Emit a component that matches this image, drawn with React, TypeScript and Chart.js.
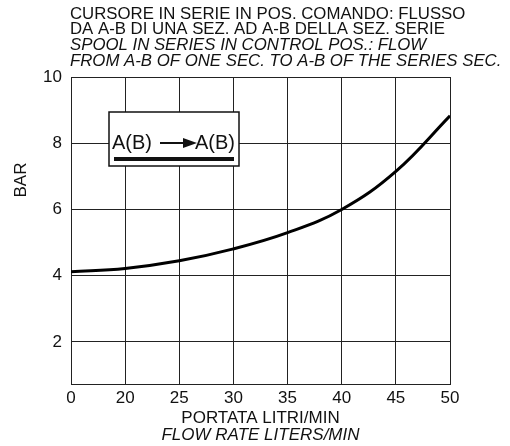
import React, { useEffect, useRef } from "react";
import { Chart, registerables } from "chart.js";

Chart.register(...registerables);

const flowValues = [15, 20, 25, 30, 35, 40, 45, 50];
const pressureBar = [4.12, 4.22, 4.45, 4.81, 5.3, 6.0, 7.15, 8.83];
const yTickValues = [2, 4, 6, 8, 10];
const titleLines = [
  "CURSORE IN SERIE IN POS. COMANDO: FLUSSO",
  "DA A-B DI UNA SEZ. AD A-B DELLA SEZ. SERIE",
];
const subtitleLines = [
  "SPOOL IN SERIES IN CONTROL POS.: FLOW",
  "FROM A-B OF ONE SEC. TO A-B OF THE SERIES SEC.",
];
const xTitle = "PORTATA LITRI/MIN";
const xTitleItalic = "FLOW RATE LITERS/MIN";
const yTitle = "BAR";
const legendText = "A(B)";

const FONT = "'Liberation Sans', Arial, Helvetica, sans-serif";

const extrasPlugin = {
  id: "extras",
  afterDraw(chart: any) {
    const ctx = chart.ctx;
    const area = chart.chartArea;
    ctx.save();
    ctx.fillStyle = "#111";
    // header (normal + italic lines)
    ctx.textAlign = "left";
    ctx.textBaseline = "middle";
    ctx.font = `16.8px ${FONT}`;
    titleLines.forEach((t, i) => ctx.fillText(t, area.left - 1, 14 + i * 15.7));
    ctx.font = `italic 16.8px ${FONT}`;
    subtitleLines.forEach((t, i) => ctx.fillText(t, area.left - 1, 14 + (i + 2) * 15.7));
    // italic second line of x title
    ctx.font = `italic 17px ${FONT}`;
    ctx.textAlign = "center";
    ctx.fillText(xTitleItalic, (area.left + area.right) / 2, 435);
    // y title
    ctx.save();
    ctx.translate(21, 180);
    ctx.rotate(-Math.PI / 2);
    ctx.font = `17px ${FONT}`;
    ctx.fillText(yTitle, 0, 0);
    ctx.restore();
    // legend box
    const bx = area.left + 38;
    const by = 112;
    const bw = 130;
    const bh = 54;
    ctx.fillStyle = "#fff";
    ctx.fillRect(bx, by, bw, bh);
    ctx.strokeStyle = "#111";
    ctx.lineWidth = 1.5;
    ctx.strokeRect(bx, by, bw, bh);
    ctx.fillStyle = "#111";
    ctx.font = `20px ${FONT}`;
    ctx.textAlign = "left";
    ctx.textBaseline = "middle";
    ctx.fillText(legendText, bx + 3, by + 31);
    ctx.fillText(legendText, bx + 86, by + 31);
    // arrow
    ctx.lineWidth = 2;
    ctx.beginPath();
    ctx.moveTo(bx + 51, by + 31);
    ctx.lineTo(bx + 76, by + 31);
    ctx.stroke();
    ctx.beginPath();
    ctx.moveTo(bx + 88, by + 31);
    ctx.lineTo(bx + 74, by + 26);
    ctx.lineTo(bx + 74, by + 36);
    ctx.closePath();
    ctx.fill();
    // thick underline
    ctx.lineWidth = 4;
    ctx.beginPath();
    ctx.moveTo(bx + 5, by + 47);
    ctx.lineTo(bx + 125, by + 47);
    ctx.stroke();
    ctx.restore();
  },
};

export default function App() {
  const canvasRef = useRef<HTMLCanvasElement | null>(null);

  useEffect(() => {
    if (!canvasRef.current) return;
    const chart = new Chart(canvasRef.current, {
      type: "line",
      data: {
        datasets: [
          {
            data: flowValues.map((x, i) => ({ x, y: pressureBar[i] })),
            borderColor: "#000",
            borderWidth: 3,
            pointRadius: 0,
            tension: 0.4,
            fill: false,
          },
        ],
      },
      options: {
        responsive: false,
        animation: false,
        layout: { padding: { left: 0, right: 60, top: 77, bottom: 0 } },
        plugins: {
          legend: { display: false },
          tooltip: { enabled: false },
          title: { display: false },
        },
        scales: {
          x: {
            type: "linear",
            min: 15,
            max: 50,
            ticks: {
              stepSize: 5,
              color: "#111",
              font: { family: FONT, size: 17 },
              padding: 4,
              maxRotation: 0,
              callback: (v: any) => (v === 15 ? "0" : String(v)),
            },
            grid: { color: "#222", lineWidth: 1, drawTicks: false },
            border: { color: "#222", width: 1 },
            title: {
              display: true,
              text: xTitle,
              color: "#111",
              font: { family: FONT, size: 17, lineHeight: 1 },
              padding: { top: 0, bottom: 19.5 },
            },
            afterFit: (scale: any) => {
              scale.height = 62;
            },
          },
          y: {
            type: "linear",
            min: 0.73,
            max: 10,
            afterBuildTicks: (scale: any) => {
              scale.ticks = yTickValues.map((v) => ({ value: v }));
            },
            ticks: {
              color: "#111",
              font: { family: FONT, size: 17 },
              padding: 9,
            },
            grid: { color: "#222", lineWidth: 1, drawTicks: false },
            border: { color: "#222", width: 1 },
            afterFit: (scale: any) => {
              scale.width = 71;
            },
          },
        },
      },
      plugins: [extrasPlugin],
    });
    return () => chart.destroy();
  }, []);

  return (
    <div style={{ position: "fixed", left: 0, top: 0, width: 510, height: 446, background: "#fff" }}>
      <canvas ref={canvasRef} width={510} height={446} />
    </div>
  );
}
